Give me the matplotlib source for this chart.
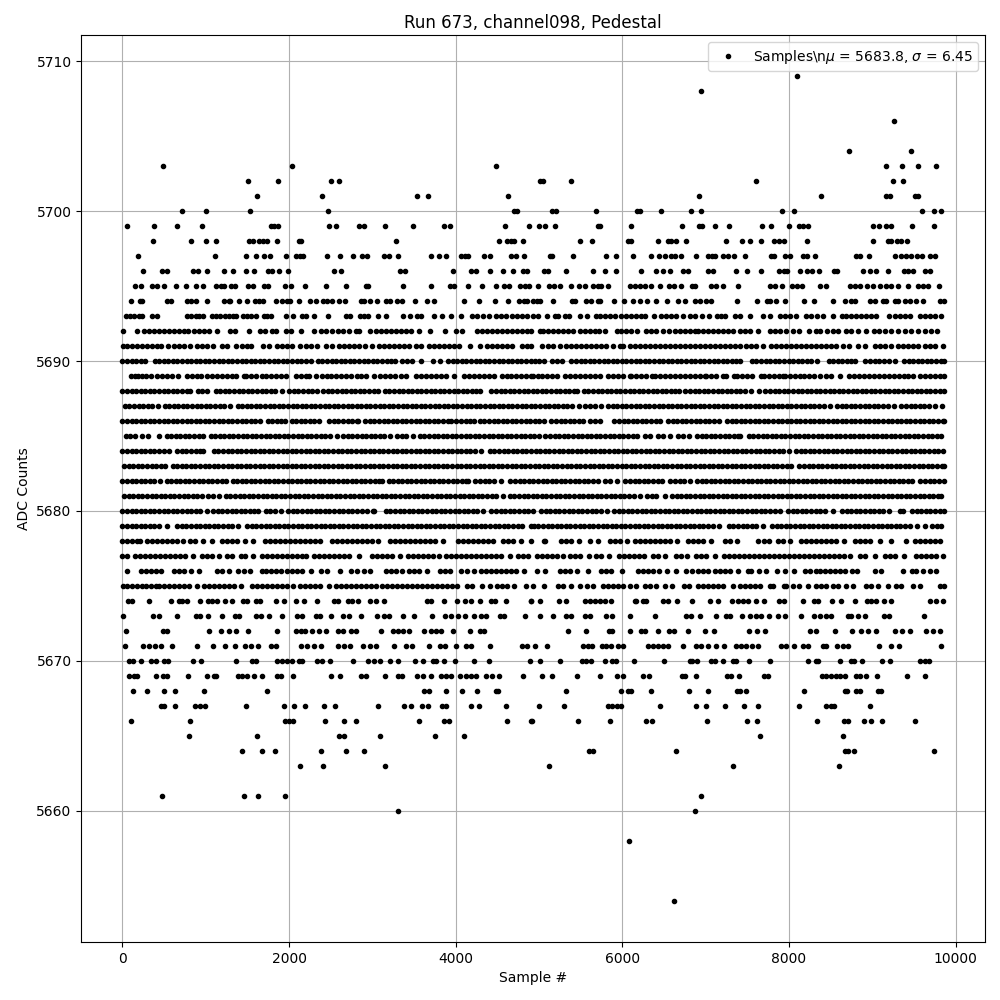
import matplotlib
matplotlib.use("Agg")
import matplotlib.pyplot as plt

s5709 = [8095]
s5708 = [6950]
s5706 = [9255]
s5704 = [8718, 9470]
s5703 = [488, 2036, 4484, 9164, 9356, 9548, 9764]
s5702 = [1508, 1868, 2504, 2600, 5008, 5048, 5384, 7604, 9248, 9368]
s5701 = [1616, 2396, 3536, 3668, 4628, 6920, 8384, 9168, 9216, 9508, 9548]
s5700 = [716, 1004, 1532, 2468, 4700, 4740, 5152, 5200, 5684, 6176, 6216, 6464, 6824, 6944, 7916, 8060, 9596, 9740, 9824]
s5699 = [60, 380, 656, 956, 1780, 1820, 1868, 2480, 2564, 2840, 2900, 3152, 3488, 3860, 3932, 4592, 4880, 5000, 5068, 5192, 5708, 5728, 6104, 6716, 6920, 6952, 7112, 7280, 7676, 7784, 8000, 8120, 8168, 8228, 9012, 9080, 9160, 9228, 9476, 9740]
s5698 = [368, 824, 1004, 1124, 1520, 1572, 1640, 1692, 1740, 1856, 2120, 2148, 3284, 4520, 4612, 4660, 4700, 4808, 5492, 5636, 6072, 6104, 6428, 6544, 6584, 6644, 6764, 7244, 7436, 7532, 7664, 7820, 7880, 7940, 8216, 9008, 9188, 9228, 9296, 9348, 9416]
s5697 = [188, 1112, 1484, 1604, 1700, 1772, 1964, 2080, 2128, 2164, 2456, 2612, 2768, 2876, 2936, 3140, 3196, 3308, 3704, 3804, 3884, 4060, 4108, 4148, 4340, 4412, 4668, 4720, 4816, 5128, 5152, 5408, 5804, 5924, 6128, 6344, 6440, 6508, 6588, 6636, 6708, 6888, 7028, 7080, 7112, 7208, 7268, 7344, 7472, 7784, 7820, 7952, 8008, 8168, 8220, 8308, 8808, 8848, 8960, 9272, 9348, 9408, 9460, 9540, 9600, 9696, 9756]
s5696 = [248, 476, 536, 848, 908, 1016, 1220, 1328, 1484, 1580, 1752, 1800, 1880, 1988, 2540, 2624, 3332, 3392, 3968, 4188, 4240, 4412, 4568, 4688, 4812, 4860, 5056, 5104, 5328, 5644, 5792, 5924, 6224, 6404, 6488, 6572, 6728, 6792, 7028, 7088, 7364, 7496, 7664, 7880, 7936, 7976, 8132, 8216, 8276, 8360, 8536, 8572, 8888, 8976, 9048, 9188, 9376, 9428, 9488, 9628, 9688]
s5695 = [156, 224, 360, 412, 500, 644, 764, 884, 972, 1120, 1180, 1220, 1300, 1352, 1504, 1568, 1700, 1752, 1952, 2024, 2192, 2444, 2684, 2920, 2952, 3368, 3704, 3928, 3980, 4144, 4316, 4484, 4580, 4640, 4772, 4828, 4880, 4988, 5120, 5176, 5256, 5380, 5480, 5548, 5648, 5708, 5748, 5828, 6088, 6148, 6208, 6276, 6348, 6452, 6560, 6620, 6700, 6836, 6868, 7060, 7120, 7208, 7384, 7776, 7836, 7916, 8036, 8100, 8160, 8372, 8444, 8736, 8788, 8848, 8936, 9008, 9088, 9168, 9228, 9308, 9428, 9548, 9608, 9668, 9804]
s5694 = [104, 212, 240, 532, 588, 780, 828, 888, 1016, 1220, 1280, 1292, 1396, 1496, 1592, 1640, 1692, 1844, 1916, 1972, 2012, 2120, 2252, 2320, 2408, 2460, 2520, 2600, 2668, 2868, 2900, 2972, 3056, 3160, 3212, 3292, 3352, 3512, 3656, 3740, 4100, 4280, 4476, 4628, 4760, 4820, 4860, 4928, 4976, 5016, 5164, 5400, 5428, 5560, 5628, 5708, 5736, 5900, 6020, 6128, 6216, 6296, 6404, 6536, 6668, 6748, 6876, 6928, 7008, 7068, 7376, 7616, 7736, 7768, 7848, 7956, 8180, 8300, 8528, 8672, 8748, 8792, 8976, 9028, 9128, 9160, 9268, 9308, 9388, 9448, 9528, 9608, 9808, 9860]
s5693 = [40, 92, 144, 196, 240, 360, 420, 772, 820, 880, 920, 972, 1072, 1120, 1172, 1228, 1280, 1328, 1368, 1452, 1500, 1548, 1600, 1700, 1740, 1788, 1968, 2048, 2160, 2208, 2296, 2464, 2680, 2732, 2852, 2900, 2952, 3072, 3160, 3368, 3452, 3540, 3580, 3740, 3836, 3944, 4060, 4200, 4260, 4328, 4400, 4484, 4540, 4600, 4680, 4740, 4800, 4860, 4928, 4988, 5096, 5188, 5228, 5308, 5356, 5496, 5576, 5680, 5736, 5792, 5848, 5916, 5988, 6048, 6108, 6168, 6220, 6268, 6380, 6460, 6528, 6588, 6648, 6728, 6816, 6876, 6956, 7044, 7136, 7188, 7232, 7352, 7412, 7532, 7688, 7776, 7888, 7948, 8008, 8088, 8208, 8268, 8336, 8408, 8528, 8636, 8688, 8748, 8808, 8868, 8928, 8988, 9048, 9200, 9268, 9328, 9388, 9448, 9568, 9628, 9688, 9748, 9828]
s5692 = [8, 180, 260, 320, 380, 440, 500, 560, 620, 680, 740, 788, 860, 920, 980, 1040, 1140, 1288, 1352, 1516, 1652, 1712, 1800, 1840, 1964, 2020, 2144, 2300, 2380, 2440, 2512, 2588, 2648, 2720, 2804, 2840, 2972, 3040, 3100, 3160, 3220, 3280, 3340, 3400, 3460, 3560, 3692, 3868, 4004, 4072, 4260, 4320, 4380, 4440, 4500, 4560, 4620, 4680, 4740, 4800, 4860, 4908, 5008, 5048, 5108, 5168, 5228, 5288, 5348, 5408, 5488, 5548, 5608, 5676, 5720, 5788, 5936, 5988, 6048, 6108, 6176, 6288, 6348, 6408, 6488, 6560, 6628, 6688, 6748, 6808, 6868, 6908, 6968, 7028, 7088, 7148, 7208, 7268, 7328, 7408, 7468, 7528, 7632, 7776, 7836, 7896, 7968, 8048, 8120, 8240, 8328, 8376, 8460, 8528, 8588, 8688, 8748, 8828, 8928, 9020, 9080, 9148, 9228, 9308, 9388, 9468, 9548, 9628, 9708, 9776]
s5691 = [8, 60, 120, 180, 240, 300, 360, 420, 460, 552, 620, 680, 740, 812, 900, 960, 1020, 1088, 1200, 1260, 1364, 1440, 1500, 1548, 1688, 1760, 1860, 1920, 1980, 2040, 2132, 2200, 2260, 2340, 2440, 2520, 2600, 2660, 2720, 2780, 2840, 2908, 2992, 3080, 3140, 3200, 3260, 3320, 3380, 3440, 3520, 3588, 3680, 3740, 3800, 3860, 3920, 3980, 4040, 4176, 4292, 4380, 4440, 4500, 4560, 4620, 4680, 4800, 4860, 4908, 5040, 5108, 5168, 5248, 5320, 5388, 5448, 5508, 5568, 5628, 5688, 5748, 5808, 5888, 5968, 6008, 6088, 6148, 6208, 6268, 6328, 6388, 6448, 6508, 6568, 6628, 6688, 6748, 6808, 6868, 6928, 6988, 7048, 7108, 7168, 7228, 7288, 7348, 7408, 7488, 7548, 7608, 7688, 7788, 7848, 7908, 7968, 8028, 8088, 8148, 8208, 8268, 8328, 8388, 8448, 8508, 8568, 8648, 8724, 8828, 8908, 9028, 9088, 9148, 9220, 9308, 9368, 9428, 9488, 9548, 9628, 9688, 9748, 9848]
s5690 = [0, 55, 110, 165, 220, 270, 390, 440, 495, 550, 605, 660, 715, 770, 825, 880, 935, 990, 1045, 1100, 1155, 1210, 1265, 1320, 1375, 1430, 1485, 1540, 1595, 1650, 1705, 1760, 1815, 1870, 1925, 1980, 2035, 2090, 2145, 2200, 2260, 2350, 2400, 2455, 2510, 2565, 2620, 2675, 2730, 2785, 2840, 2895, 2950, 3005, 3060, 3115, 3170, 3225, 3270, 3360, 3420, 3480, 3590, 3730, 3810, 3910, 3965, 4020, 4075, 4130, 4185, 4240, 4295, 4350, 4405, 4460, 4515, 4570, 4625, 4680, 4735, 4790, 4845, 4900, 4950, 5005, 5058, 5158, 5215, 5278, 5390, 5445, 5500, 5555, 5610, 5665, 5720, 5775, 5830, 5885, 5940, 5995, 6050, 6105, 6160, 6215, 6270, 6325, 6380, 6435, 6490, 6545, 6600, 6655, 6710, 6765, 6820, 6875, 6930, 6985, 7040, 7095, 7150, 7205, 7260, 7315, 7370, 7418, 7558, 7610, 7665, 7720, 7775, 7830, 7885, 7940, 7995, 8050, 8105, 8160, 8215, 8270, 8338, 8478, 8530, 8585, 8640, 8695, 8750, 8798, 8918, 8975, 9030, 9085, 9140, 9195, 9278, 9378, 9435, 9490, 9545, 9600, 9655, 9710, 9765, 9820, 9858]
s5689 = [100, 150, 190, 240, 280, 340, 420, 480, 540, 600, 668, 772, 840, 900, 940, 1020, 1080, 1140, 1200, 1260, 1320, 1360, 1460, 1480, 1540, 1600, 1680, 1720, 1780, 1840, 1900, 1960, 2080, 2140, 2200, 2240, 2320, 2400, 2460, 2500, 2560, 2620, 2680, 2740, 2820, 2860, 2920, 3020, 3092, 3150, 3210, 3270, 3340, 3400, 3520, 3580, 3640, 3700, 3760, 3820, 3880, 3980, 4100, 4160, 4220, 4280, 4340, 4400, 4460, 4560, 4612, 4670, 4730, 4790, 4850, 4900, 4930, 4990, 5040, 5100, 5160, 5220, 5310, 5370, 5430, 5490, 5550, 5610, 5670, 5728, 5828, 5890, 5950, 6010, 6088, 6108, 6170, 6230, 6290, 6360, 6388, 6450, 6510, 6570, 6630, 6690, 6750, 6810, 6870, 6930, 6990, 7008, 7068, 7130, 7208, 7248, 7336, 7376, 7440, 7500, 7560, 7668, 7696, 7760, 7820, 7880, 7928, 7948, 8010, 8070, 8130, 8176, 8240, 8300, 8370, 8440, 8500, 8608, 8716, 8780, 8840, 8900, 8960, 9020, 9080, 9140, 9200, 9260, 9320, 9380, 9428, 9488, 9568, 9630, 9690, 9750, 9810, 9860]
s5688 = [0, 55, 110, 165, 220, 275, 330, 385, 440, 495, 550, 605, 660, 715, 770, 810, 902, 955, 1010, 1118, 1175, 1230, 1285, 1340, 1395, 1450, 1505, 1560, 1615, 1670, 1725, 1780, 1835, 1910, 2002, 2057, 2112, 2167, 2222, 2277, 2330, 2410, 2465, 2520, 2575, 2630, 2685, 2740, 2795, 2850, 2905, 2960, 3015, 3070, 3150, 3205, 3260, 3315, 3370, 3425, 3480, 3535, 3590, 3645, 3700, 3755, 3810, 3865, 3920, 3975, 4030, 4085, 4140, 4195, 4250, 4290, 4430, 4485, 4540, 4595, 4650, 4705, 4760, 4815, 4870, 4925, 4980, 5035, 5090, 5145, 5200, 5255, 5310, 5365, 5420, 5458, 5538, 5593, 5648, 5703, 5758, 5813, 5868, 5923, 5978, 6033, 6088, 6143, 6198, 6253, 6308, 6363, 6418, 6473, 6528, 6583, 6638, 6678, 6758, 6813, 6868, 6923, 6978, 7033, 7088, 7143, 7198, 7253, 7308, 7363, 7418, 7473, 7546, 7646, 7718, 7773, 7828, 7883, 7938, 7993, 8048, 8103, 8158, 8213, 8268, 8323, 8378, 8433, 8488, 8543, 8598, 8653, 8708, 8763, 8818, 8873, 8928, 8983, 9038, 9093, 9148, 9203, 9258, 9313, 9368, 9423, 9478, 9533, 9588, 9643, 9698, 9753, 9808, 9860]
s5687 = [30, 85, 140, 195, 250, 305, 360, 430, 506, 561, 616, 671, 726, 781, 836, 891, 946, 1001, 1056, 1111, 1166, 1221, 1290, 1382, 1437, 1492, 1547, 1602, 1657, 1712, 1767, 1822, 1877, 1932, 1987, 2042, 2097, 2152, 2207, 2262, 2317, 2372, 2427, 2482, 2537, 2592, 2647, 2702, 2757, 2812, 2867, 2922, 2977, 3032, 3087, 3142, 3197, 3252, 3307, 3362, 3417, 3472, 3527, 3582, 3637, 3692, 3747, 3802, 3857, 3912, 3967, 4022, 4077, 4132, 4187, 4242, 4297, 4352, 4407, 4462, 4517, 4572, 4627, 4682, 4737, 4792, 4847, 4902, 4957, 5012, 5067, 5122, 5177, 5232, 5287, 5342, 5397, 5478, 5558, 5613, 5678, 5740, 5830, 5885, 5940, 5995, 6050, 6105, 6160, 6215, 6270, 6325, 6380, 6435, 6490, 6545, 6600, 6655, 6710, 6765, 6820, 6875, 6930, 6985, 7040, 7095, 7150, 7205, 7260, 7315, 7370, 7425, 7480, 7535, 7590, 7645, 7700, 7755, 7810, 7865, 7920, 7975, 8030, 8085, 8140, 8195, 8250, 8305, 8360, 8415, 8498, 8578, 8633, 8688, 8743, 8798, 8853, 8908, 8963, 9018, 9073, 9128, 9183, 9258, 9350, 9405, 9460, 9515, 9570, 9625, 9680, 9758, 9840]
s5686 = [0, 55, 110, 165, 220, 275, 330, 385, 440, 495, 550, 605, 660, 715, 770, 825, 880, 935, 990, 1045, 1100, 1155, 1210, 1265, 1320, 1375, 1430, 1485, 1540, 1595, 1650, 1742, 1797, 1852, 1907, 1950, 2030, 2085, 2140, 2195, 2250, 2305, 2358, 2482, 2537, 2592, 2647, 2702, 2757, 2812, 2830, 2914, 2969, 3024, 3079, 3134, 3189, 3244, 3299, 3354, 3409, 3464, 3519, 3574, 3629, 3684, 3739, 3794, 3849, 3904, 3950, 4010, 4065, 4120, 4175, 4222, 4290, 4345, 4400, 4455, 4510, 4565, 4620, 4675, 4730, 4785, 4840, 4895, 4950, 5005, 5058, 5150, 5205, 5260, 5315, 5370, 5425, 5480, 5530, 5618, 5675, 5730, 5902, 5960, 6015, 6070, 6125, 6180, 6235, 6290, 6345, 6400, 6450, 6550, 6605, 6660, 6715, 6770, 6825, 6880, 6935, 6990, 7045, 7100, 7166, 7258, 7313, 7368, 7423, 7478, 7533, 7588, 7643, 7698, 7753, 7808, 7863, 7918, 7973, 8028, 8083, 8138, 8193, 8248, 8303, 8358, 8413, 8468, 8523, 8578, 8633, 8688, 8743, 8798, 8853, 8908, 8963, 9018, 9073, 9128, 9183, 9238, 9293, 9348, 9403, 9458, 9513, 9568, 9623, 9678, 9733, 9788, 9843, 9860]
s5685 = [40, 95, 150, 230, 310, 438, 530, 585, 640, 695, 750, 805, 860, 915, 970, 1058, 1113, 1168, 1223, 1278, 1333, 1388, 1443, 1498, 1553, 1608, 1663, 1718, 1773, 1828, 1883, 1938, 1993, 2048, 2103, 2158, 2213, 2268, 2323, 2378, 2433, 2488, 2570, 2650, 2705, 2760, 2815, 2870, 2925, 2980, 3035, 3090, 3145, 3210, 3298, 3353, 3408, 3490, 3570, 3625, 3680, 3735, 3790, 3845, 3900, 3955, 4010, 4065, 4120, 4175, 4230, 4285, 4340, 4395, 4450, 4505, 4560, 4615, 4670, 4725, 4780, 4835, 4890, 4945, 4998, 5078, 5133, 5188, 5243, 5298, 5353, 5408, 5463, 5518, 5573, 5628, 5683, 5738, 5793, 5848, 5903, 5958, 6013, 6068, 6123, 6178, 6270, 6330, 6430, 6490, 6570, 6670, 6730, 6806, 6898, 6953, 7008, 7063, 7118, 7173, 7228, 7283, 7338, 7393, 7418, 7518, 7573, 7628, 7683, 7738, 7793, 7848, 7903, 7958, 8013, 8068, 8123, 8178, 8233, 8288, 8343, 8398, 8453, 8508, 8563, 8618, 8673, 8728, 8783, 8838, 8893, 8948, 9003, 9058, 9113, 9168, 9223, 9278, 9333, 9388, 9443, 9498, 9553, 9608, 9663, 9718, 9773, 9828]
s5684 = [0, 55, 110, 165, 220, 275, 330, 385, 440, 495, 558, 658, 713, 768, 823, 878, 933, 970, 1098, 1153, 1208, 1263, 1318, 1373, 1428, 1483, 1538, 1593, 1648, 1703, 1758, 1813, 1868, 1923, 1978, 2033, 2088, 2143, 2198, 2253, 2308, 2363, 2418, 2473, 2528, 2583, 2638, 2693, 2748, 2803, 2858, 2913, 2968, 3023, 3078, 3133, 3188, 3243, 3298, 3353, 3408, 3463, 3518, 3573, 3628, 3683, 3738, 3793, 3848, 3903, 3958, 4013, 4068, 4123, 4178, 4233, 4302, 4410, 4465, 4520, 4575, 4630, 4685, 4740, 4795, 4850, 4905, 4960, 5015, 5070, 5125, 5180, 5235, 5290, 5345, 5400, 5455, 5510, 5565, 5620, 5675, 5730, 5785, 5840, 5895, 5950, 6005, 6060, 6115, 6170, 6225, 6280, 6335, 6390, 6445, 6500, 6555, 6610, 6665, 6720, 6775, 6830, 6885, 6940, 6995, 7050, 7105, 7160, 7215, 7270, 7325, 7380, 7435, 7490, 7545, 7600, 7655, 7710, 7765, 7820, 7875, 7930, 8000, 8086, 8141, 8196, 8251, 8306, 8361, 8416, 8471, 8526, 8581, 8636, 8691, 8746, 8801, 8856, 8911, 8966, 9021, 9076, 9131, 9186, 9241, 9296, 9351, 9406, 9461, 9516, 9571, 9626, 9681, 9736, 9791, 9846]
s5683 = [20, 75, 130, 185, 240, 295, 350, 405, 460, 510, 602, 657, 712, 767, 822, 877, 932, 987, 1042, 1097, 1152, 1207, 1262, 1317, 1372, 1427, 1482, 1537, 1592, 1647, 1702, 1757, 1812, 1867, 1922, 1977, 2032, 2087, 2142, 2197, 2252, 2307, 2362, 2417, 2472, 2527, 2582, 2637, 2692, 2747, 2802, 2857, 2912, 2967, 3022, 3077, 3132, 3187, 3242, 3297, 3352, 3407, 3462, 3517, 3572, 3627, 3682, 3737, 3792, 3847, 3902, 3957, 4012, 4067, 4122, 4177, 4232, 4287, 4342, 4397, 4452, 4507, 4562, 4617, 4672, 4727, 4782, 4837, 4892, 4947, 5002, 5057, 5112, 5167, 5222, 5277, 5332, 5387, 5442, 5497, 5552, 5607, 5662, 5717, 5772, 5827, 5882, 5937, 5992, 6047, 6102, 6157, 6212, 6267, 6322, 6377, 6432, 6487, 6542, 6597, 6652, 6707, 6762, 6817, 6872, 6927, 6982, 7037, 7092, 7147, 7202, 7257, 7312, 7367, 7422, 7477, 7532, 7587, 7642, 7697, 7752, 7807, 7862, 7917, 7972, 8026, 8126, 8181, 8236, 8291, 8346, 8401, 8456, 8511, 8566, 8621, 8676, 8731, 8786, 8841, 8896, 8951, 9006, 9061, 9116, 9171, 9226, 9281, 9336, 9391, 9446, 9501, 9556, 9611, 9666, 9721, 9776, 9831, 9860]
s5682 = [0, 55, 110, 165, 220, 275, 330, 385, 450, 530, 585, 640, 695, 750, 805, 860, 915, 970, 1025, 1080, 1135, 1190, 1242, 1322, 1377, 1432, 1487, 1542, 1597, 1652, 1707, 1762, 1817, 1872, 1927, 1982, 2037, 2092, 2147, 2202, 2257, 2312, 2367, 2422, 2477, 2532, 2587, 2642, 2697, 2752, 2807, 2862, 2917, 2972, 3027, 3082, 3110, 3194, 3249, 3304, 3359, 3414, 3469, 3524, 3579, 3634, 3689, 3744, 3799, 3854, 3909, 3964, 4019, 4074, 4129, 4150, 4238, 4293, 4348, 4403, 4458, 4542, 4658, 4713, 4768, 4823, 4878, 4933, 4988, 5043, 5098, 5153, 5208, 5263, 5318, 5373, 5428, 5483, 5538, 5593, 5648, 5710, 5798, 5853, 5938, 6038, 6093, 6148, 6203, 6258, 6313, 6368, 6423, 6478, 6578, 6633, 6688, 6743, 6818, 6898, 6953, 7008, 7063, 7118, 7173, 7228, 7283, 7338, 7393, 7448, 7503, 7558, 7613, 7668, 7723, 7778, 7833, 7888, 7943, 7998, 8053, 8108, 8163, 8218, 8273, 8328, 8383, 8438, 8493, 8548, 8603, 8658, 8713, 8768, 8823, 8878, 8933, 8988, 9043, 9098, 9153, 9208, 9263, 9318, 9373, 9428, 9478, 9578, 9633, 9688, 9743, 9798, 9858]
s5681 = [20, 75, 130, 185, 240, 295, 350, 405, 460, 515, 570, 625, 680, 735, 790, 845, 900, 950, 1030, 1085, 1158, 1242, 1297, 1352, 1407, 1462, 1517, 1572, 1627, 1682, 1737, 1792, 1847, 1902, 1957, 2012, 2067, 2122, 2177, 2232, 2287, 2342, 2397, 2452, 2507, 2562, 2617, 2672, 2727, 2782, 2837, 2892, 2947, 3002, 3057, 3112, 3167, 3222, 3277, 3332, 3387, 3442, 3497, 3552, 3607, 3662, 3717, 3772, 3827, 3882, 3937, 3992, 4047, 4102, 4157, 4212, 4267, 4322, 4377, 4432, 4487, 4570, 4650, 4705, 4760, 4815, 4870, 4925, 4980, 5035, 5090, 5145, 5200, 5255, 5310, 5365, 5420, 5475, 5530, 5585, 5640, 5695, 5750, 5805, 5860, 5915, 5970, 6025, 6080, 6135, 6218, 6298, 6353, 6408, 6510, 6598, 6653, 6708, 6763, 6818, 6873, 6928, 6983, 7038, 7093, 7148, 7203, 7258, 7313, 7368, 7423, 7478, 7533, 7588, 7643, 7698, 7753, 7808, 7863, 7918, 7973, 8028, 8083, 8138, 8193, 8248, 8303, 8358, 8413, 8468, 8523, 8578, 8633, 8688, 8743, 8798, 8853, 8908, 8963, 9018, 9073, 9128, 9183, 9238, 9293, 9348, 9403, 9458, 9513, 9568, 9623, 9678, 9733, 9788, 9830]
s5680 = [0, 55, 110, 165, 220, 275, 330, 385, 440, 495, 550, 605, 660, 715, 770, 825, 880, 935, 1010, 1090, 1145, 1200, 1255, 1310, 1365, 1420, 1475, 1530, 1585, 1630, 1718, 1773, 1828, 1902, 1990, 2045, 2100, 2155, 2210, 2265, 2320, 2375, 2430, 2485, 2540, 2595, 2650, 2705, 2760, 2815, 2870, 2930, 3010, 3022, 3162, 3217, 3272, 3327, 3382, 3437, 3492, 3547, 3602, 3657, 3712, 3767, 3822, 3877, 3932, 3987, 4042, 4097, 4152, 4207, 4262, 4330, 4430, 4485, 4540, 4595, 4650, 4705, 4760, 4815, 4870, 4930, 5026, 5081, 5136, 5191, 5246, 5301, 5356, 5411, 5466, 5521, 5576, 5631, 5686, 5741, 5818, 5902, 5957, 6012, 6067, 6122, 6177, 6232, 6287, 6342, 6397, 6452, 6507, 6562, 6617, 6672, 6727, 6782, 6837, 6892, 6947, 7002, 7057, 7112, 7167, 7222, 7277, 7332, 7387, 7442, 7497, 7552, 7607, 7662, 7717, 7772, 7827, 7898, 7990, 8045, 8100, 8155, 8210, 8265, 8320, 8375, 8430, 8530, 8638, 8693, 8748, 8803, 8858, 8913, 8968, 9023, 9078, 9133, 9202, 9330, 9370, 9478, 9533, 9588, 9643, 9698, 9753, 9808, 9860]
s5679 = [0, 55, 110, 165, 220, 275, 330, 385, 440, 538, 658, 713, 768, 823, 878, 933, 988, 1043, 1098, 1153, 1208, 1263, 1318, 1390, 1498, 1553, 1608, 1663, 1718, 1773, 1828, 1883, 1938, 1993, 2048, 2103, 2158, 2213, 2268, 2323, 2378, 2433, 2488, 2543, 2598, 2653, 2708, 2763, 2818, 2873, 2928, 2983, 3038, 3093, 3148, 3203, 3258, 3313, 3368, 3423, 3478, 3533, 3588, 3643, 3698, 3753, 3808, 3863, 3918, 3973, 4028, 4083, 4138, 4193, 4248, 4303, 4358, 4413, 4468, 4523, 4578, 4633, 4688, 4743, 4798, 4900, 4938, 4993, 5048, 5103, 5158, 5213, 5268, 5323, 5378, 5433, 5488, 5543, 5598, 5653, 5708, 5763, 5818, 5873, 5928, 5983, 6038, 6093, 6148, 6203, 6258, 6313, 6368, 6423, 6478, 6533, 6588, 6643, 6698, 6753, 6808, 6863, 6918, 6973, 7028, 7083, 7158, 7278, 7333, 7388, 7443, 7498, 7553, 7608, 7690, 7798, 7853, 7908, 7963, 8018, 8073, 8128, 8183, 8238, 8293, 8348, 8403, 8458, 8513, 8568, 8623, 8678, 8733, 8788, 8843, 8898, 8953, 9008, 9063, 9118, 9173, 9228, 9283, 9338, 9393, 9448, 9538, 9636, 9718, 9773, 9828]
s5678 = [0, 60, 120, 180, 210, 290, 350, 410, 470, 530, 590, 650, 730, 810, 870, 970, 1080, 1190, 1250, 1310, 1370, 1470, 1570, 1710, 1770, 1830, 1890, 1950, 2010, 2070, 2130, 2190, 2250, 2310, 2370, 2510, 2570, 2630, 2690, 2750, 2810, 2870, 2930, 2990, 3070, 3210, 3270, 3330, 3390, 3450, 3510, 3570, 3630, 3690, 3750, 3850, 4030, 4090, 4150, 4210, 4270, 4330, 4390, 4450, 4570, 4630, 4690, 4790, 4900, 5058, 5078, 5266, 5326, 5386, 5478, 5618, 5708, 5858, 5918, 5978, 6058, 6158, 6218, 6278, 6338, 6398, 6458, 6518, 6578, 6658, 6790, 6850, 6910, 6970, 7070, 7230, 7290, 7378, 7632, 7700, 7760, 7870, 7930, 8018, 8150, 8210, 8270, 8330, 8390, 8450, 8510, 8570, 8658, 8798, 8858, 8918, 8978, 9090, 9228, 9408, 9518, 9578, 9638, 9698, 9758, 9818]
s5677 = [0, 50, 150, 210, 270, 330, 390, 450, 510, 570, 630, 690, 750, 850, 958, 1018, 1078, 1158, 1258, 1310, 1418, 1470, 1568, 1670, 1730, 1790, 1850, 1910, 1970, 2030, 2090, 2150, 2198, 2298, 2358, 2418, 2478, 2538, 2598, 2658, 2718, 2838, 2994, 3054, 3114, 3174, 3234, 3330, 3430, 3490, 3550, 3610, 3670, 3730, 3802, 3890, 3950, 4010, 4070, 4130, 4190, 4250, 4310, 4370, 4430, 4490, 4550, 4650, 4750, 4810, 4870, 4978, 5038, 5098, 5158, 5218, 5290, 5378, 5438, 5498, 5598, 5686, 5746, 5838, 5958, 6018, 6078, 6138, 6198, 6266, 6366, 6426, 6518, 6646, 6706, 6778, 6890, 6950, 7010, 7118, 7218, 7278, 7338, 7398, 7458, 7518, 7578, 7638, 7698, 7758, 7818, 7878, 7938, 7998, 8058, 8118, 8178, 8238, 8298, 8358, 8418, 8478, 8538, 8598, 8658, 8738, 8858, 8918, 9038, 9158, 9218, 9278, 9378, 9530, 9590, 9650, 9710, 9770, 9850]
s5676 = [50, 220, 280, 340, 400, 460, 618, 678, 738, 822, 920, 1138, 1198, 1282, 1392, 1460, 1532, 1680, 1720, 1780, 1840, 1900, 1980, 2040, 2100, 2160, 2260, 2380, 2460, 2612, 2748, 2810, 2900, 2972, 3160, 3220, 3280, 3360, 3440, 3500, 3560, 3660, 3812, 3870, 3930, 4068, 4140, 4220, 4300, 4360, 4420, 4480, 4540, 4600, 4660, 4720, 4820, 4978, 5078, 5256, 5316, 5376, 5458, 5592, 5740, 5800, 5868, 6000, 6192, 6252, 6312, 6372, 6446, 6532, 6648, 6768, 6836, 6908, 6968, 7028, 7108, 7168, 7228, 7288, 7388, 7508, 7548, 7640, 7728, 7856, 7948, 8060, 8188, 8248, 8328, 8368, 8428, 8488, 8548, 8608, 8668, 8760, 8816, 9028, 9108, 9368, 9480, 9528, 9608, 9688, 9768]
s5675 = [8, 60, 120, 180, 240, 280, 340, 400, 440, 500, 560, 620, 680, 740, 800, 900, 980, 1040, 1100, 1160, 1220, 1280, 1340, 1420, 1552, 1612, 1672, 1732, 1792, 1852, 1912, 1972, 2052, 2128, 2188, 2248, 2308, 2368, 2480, 2560, 2620, 2680, 2740, 2800, 2860, 2920, 2980, 3040, 3120, 3172, 3232, 3292, 3352, 3412, 3472, 3532, 3592, 3652, 3712, 3772, 3832, 3892, 3952, 4020, 4140, 4200, 4320, 4412, 4492, 4552, 4612, 4700, 4844, 4928, 5060, 5228, 5288, 5388, 5496, 5576, 5648, 5768, 5828, 5888, 5948, 6008, 6088, 6168, 6268, 6328, 6408, 6508, 6600, 6740, 6800, 6908, 6968, 7028, 7088, 7148, 7208, 7328, 7408, 7468, 7528, 7588, 7648, 7768, 7808, 7936, 7968, 8048, 8120, 8228, 8328, 8388, 8448, 8528, 8588, 8688, 8768, 8920, 8988, 9068, 9188, 9288, 9348, 9488, 9576, 9816, 9860]
s5674 = [68, 120, 324, 580, 680, 720, 780, 928, 1028, 1072, 1136, 1228, 1316, 1452, 1500, 1600, 1652, 1840, 1940, 2080, 2180, 2336, 2540, 2588, 2708, 2760, 2828, 2972, 3040, 3140, 3660, 3708, 3864, 4016, 4108, 4180, 4288, 4420, 4472, 4604, 4900, 4908, 5016, 5240, 5328, 5548, 5608, 5668, 5728, 5788, 5860, 6148, 6168, 6248, 6288, 6488, 6548, 6660, 6832, 7048, 7148, 7316, 7388, 7448, 7508, 7608, 7696, 7880, 7936, 8172, 8300, 8348, 8516, 8628, 8796, 8936, 8988, 9048, 9136, 9228, 9688, 9760, 9848]
s5673 = [12, 368, 444, 656, 880, 928, 1028, 1196, 1352, 1404, 1600, 1660, 1760, 1920, 2100, 2160, 2320, 2372, 2500, 2648, 2720, 2864, 3060, 3140, 3200, 3368, 3500, 3712, 3876, 3940, 4032, 4112, 4220, 4300, 4360, 4532, 4580, 4832, 5012, 5168, 5328, 5388, 5548, 5608, 5808, 5876, 6092, 6392, 6768, 6828, 6928, 7124, 7248, 7288, 7436, 7536, 7608, 7668, 7760, 7872, 7948, 8144, 8300, 8368, 8448, 8500, 8708, 8748, 8828, 8908, 9136, 9200, 9624]
s5672 = [44, 488, 532, 1040, 1184, 1280, 1364, 1508, 1856, 2088, 2140, 2192, 2276, 2360, 2448, 2588, 2648, 2748, 2808, 3104, 3248, 3308, 3368, 3440, 3620, 3700, 3760, 3828, 3968, 4172, 4292, 4340, 5348, 5560, 5840, 5876, 6092, 6220, 6276, 6428, 6560, 6620, 6784, 6992, 7100, 7520, 7616, 7716, 8252, 8328, 8552, 8756, 8868, 8948, 9048, 9272, 9352, 9448, 9648, 9728, 9808]
s5671 = [32, 248, 320, 388, 460, 596, 896, 1088, 1232, 1352, 1472, 1544, 1632, 1788, 1848, 2148, 2220, 2300, 2388, 2588, 2660, 2732, 2888, 2972, 3048, 3260, 3408, 3480, 3680, 3808, 3872, 4004, 4120, 4180, 4412, 4800, 4860, 4952, 5092, 5528, 5588, 5636, 5756, 5808, 5868, 5948, 6008, 6308, 6368, 6428, 6488, 6548, 6728, 6888, 6948, 7028, 7124, 7224, 7368, 7428, 7488, 7556, 7628, 7908, 7968, 8060, 8168, 8228, 8408, 8448, 8576, 8648, 8708, 9080, 9228, 9320, 9824]
s5670 = [76, 124, 220, 340, 400, 500, 548, 848, 944, 1364, 1560, 1600, 1860, 1920, 1980, 2040, 2120, 2160, 2340, 2400, 2492, 2768, 2948, 3020, 3092, 3212, 3308, 3512, 3608, 3728, 3768, 3860, 3992, 4220, 4400, 4888, 5012, 5252, 5516, 5568, 5620, 5792, 5876, 5928, 6140, 6500, 6808, 6840, 6900, 7060, 7108, 7208, 7328, 7360, 7520, 7772, 8228, 8328, 8348, 8612, 8748, 8776, 8876, 9116, 9212, 9568, 9628, 9676]
s5669 = [80, 140, 180, 404, 488, 540, 788, 1020, 1100, 1128, 1388, 1440, 1492, 1580, 1680, 1860, 1900, 2052, 2500, 2612, 2860, 2924, 3152, 3308, 3360, 3540, 3608, 3704, 3828, 3888, 3940, 4052, 4120, 4180, 4240, 4368, 4440, 4520, 4812, 5036, 5156, 5456, 5732, 5936, 6008, 6248, 6320, 6720, 6748, 6880, 7256, 7308, 7400, 7700, 7748, 8396, 8448, 8508, 8568, 8608, 8672, 8808, 8848, 8924, 9056, 9416, 9632]
s5668 = [128, 296, 500, 632, 980, 1736, 3620, 3680, 3884, 4076, 4256, 4480, 4512, 5324, 5984, 6072, 6108, 6344, 6800, 7028, 7376, 7412, 7484, 8180, 8668, 8696, 8808, 8848, 9068, 9108]
s5667 = [468, 500, 632, 872, 932, 992, 1484, 1940, 2060, 2192, 2420, 2552, 3068, 3380, 3464, 3600, 3672, 3840, 3880, 4184, 4280, 4604, 5000, 5300, 5828, 5880, 5936, 5988, 6452, 6884, 7004, 7232, 7460, 7628, 8120, 8448, 8508, 8540, 8972]
s5666 = [104, 812, 1952, 2000, 2052, 2432, 2660, 2804, 3560, 3860, 3924, 4616, 4900, 4916, 5468, 5852, 6284, 6356, 7016, 7496, 7616, 8336, 8660, 8712, 8900, 8984, 9116, 9512]
s5665 = [800, 1616, 2600, 2660, 3092, 3752, 4100, 7652, 8648]
s5664 = [1436, 1676, 1832, 2384, 2684, 2900, 5600, 5648, 6644, 8668, 8708, 8780, 9740]
s5663 = [2132, 2408, 3152, 5120, 7328, 8600]
s5661 = [476, 1460, 1628, 1952, 6944]
s5660 = [3308, 6872]
s5658 = [6080]
s5654 = [6620]

levels = [5709, 5708, 5706, 5704, 5703, 5702, 5701, 5700, 5699, 5698, 5697, 5696, 5695, 5694, 5693,
          5692, 5691, 5690, 5689, 5688, 5687, 5686, 5685, 5684, 5683, 5682, 5681, 5680, 5679, 5678,
          5677, 5676, 5675, 5674, 5673, 5672, 5671, 5670, 5669, 5668, 5667, 5666, 5665, 5664, 5663,
          5661, 5660, 5658, 5654]
rows = [s5709, s5708, s5706, s5704, s5703, s5702, s5701, s5700, s5699, s5698, s5697, s5696, s5695, s5694, s5693,
        s5692, s5691, s5690, s5689, s5688, s5687, s5686, s5685, s5684, s5683, s5682, s5681, s5680, s5679, s5678,
        s5677, s5676, s5675, s5674, s5673, s5672, s5671, s5670, s5669, s5668, s5667, s5666, s5665, s5664, s5663,
        s5661, s5660, s5658, s5654]

xs = [x for row in rows for x in row]
ys = [lev for lev, row in zip(levels, rows) for _ in row]

fig, ax = plt.subplots(figsize=(10, 10), dpi=100)
ax.plot(xs, ys, "k.", label=r"Samples\n$\mu$ = 5683.8, $\sigma$ = 6.45")
ax.set_xlabel("Sample #")
ax.set_ylabel("ADC Counts")
ax.set_title("Run 673, channel098, Pedestal", pad=5)
ax.grid(True)
ax.legend(loc="upper right")
fig.subplots_adjust(left=0.0813, right=0.985, top=0.965, bottom=0.058)
fig.savefig("out.png", dpi=100)
